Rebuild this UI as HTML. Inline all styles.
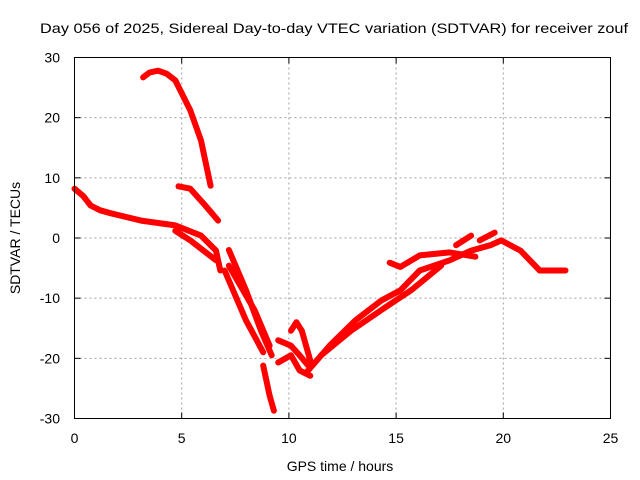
<!DOCTYPE html>
<html><head><meta charset="utf-8"><style>body{margin:0;background:#fff}svg{display:block;font-family:"Liberation Sans",sans-serif}</style></head>
<body>
<svg id="chart" width="640" height="480" viewBox="0 0 640 480">
<text x="40" y="33" font-size="14" textLength="588" lengthAdjust="spacingAndGlyphs">Day 056 of 2025, Sidereal Day-to-day VTEC variation (SDTVAR) for receiver zouf</text>
<g id="grid"></g>
<g id="series"></g>
<rect x="74.5" y="57.5" width="536" height="361" fill="none" stroke="#000" stroke-width="1"/>
<g id="axes"></g>
<text x="340" y="471" font-size="14" text-anchor="middle">GPS time / hours</text>
<text transform="translate(20,238) rotate(-90)" font-size="14" text-anchor="middle">SDTVAR / TECUs</text>
</svg>
<script>
const xTicks = [0,5,10,15,20,25];
const yTicks = [-30,-20,-10,0,10,20,30];
const seriesNames = ['arc-high','arc-mid','main-upper','main-lower','drop-a','drop-b','drop-c','spike-down','loop-a','loop-b','loop-low','rise-main','rise-second','upper-band','band-18','band-19'];
const seriesHours = [
 [3.2,3.5,3.9,4.3,4.7,5.4,5.9,6.35],
 [4.85,5.4,6.1,6.7],
 [0,0.4,0.75,1.2,1.7,3.1,4.7,5.9,6.6,6.8],
 [4.7,5.4,6.6],
 [7.2,8.0,8.7,9.2],
 [7.0,8.0,8.8],
 [7.2,8.4,9.1],
 [8.8,9.1,9.3],
 [9.5,10.1,10.5,10.9],
 [10.1,10.35,10.6,11.0],
 [9.5,10.1,10.5,11.0],
 [10.8,11.9,13.1,14.3,15.2,16.1,17.5,18.5,19.4,19.9,20.8,21.7,22.9],
 [11.5,12.9,14.3,15.7,17.1],
 [14.7,15.2,16.1,17.5,18.7],
 [17.8,18.5],
 [18.9,19.6]
];
const seriesValues = [
 [26.7,27.5,27.8,27.3,26.2,21.2,16.2,8.7],
 [8.6,8.2,5.4,2.9],
 [8.2,7.0,5.4,4.6,4.1,2.9,2.1,0.4,-2.1,-5.4],
 [1.2,-0.4,-3.7],
 [-2,-8.7,-15.4,-19.5],
 [-5.4,-13.7,-19],
 [-4.6,-12,-17.9],
 [-21.2,-26.2,-28.7],
 [-17,-17.9,-19.5,-21.2],
 [-15.4,-14,-15.4,-20.4],
 [-20.7,-19.5,-22,-22.9],
 [-22.4,-17.9,-13.7,-10.4,-8.7,-5.4,-3.7,-2.1,-1.2,-0.4,-2.1,-5.4,-5.4],
 [-19.5,-15.4,-12,-8.7,-4.6],
 [-4.1,-4.8,-2.9,-2.4,-3.1],
 [-1.2,0.4],
 [-0.4,0.9]
];
const X0=74.5,X1=610.5,Y0=418.5,Y1=57.5;
const xs=h=>X0+(h-0)/25*(X1-X0);
const ys=v=>Y0-(v+30)/60*(Y0-Y1);
const NS='http://www.w3.org/2000/svg';
const grid=document.getElementById('grid'),axes=document.getElementById('axes'),ser=document.getElementById('series');
function mk(tag,attrs,parent){const e=document.createElementNS(NS,tag);for(const k in attrs)e.setAttribute(k,attrs[k]);parent.appendChild(e);return e;}
xTicks.forEach(t=>{
 const x=xs(t);
 if(t>0&&t<25){const l=mk('line',{x1:x,x2:x,y1:Y1,y2:Y0,stroke:'#a0a0a0','stroke-dasharray':'2,3'},grid);
 
 }
 mk('line',{x1:x,x2:x,y1:Y0,y2:Y0-6,stroke:'#000'},axes);
 mk('line',{x1:x,x2:x,y1:Y1,y2:Y1+6,stroke:'#000'},axes);
 const tx=mk('text',{x:x,y:443,'font-size':14,'text-anchor':'middle'},axes);tx.textContent=t;
 
 
});
yTicks.forEach(t=>{
 const y=ys(t);
 if(t>-30&&t<30){const l=mk('line',{x1:X0,x2:X1,y1:y,y2:y,stroke:'#a0a0a0','stroke-dasharray':'2,3'},grid);
 
 }
 mk('line',{x1:X0,x2:X0+6,y1:y,y2:y,stroke:'#000'},axes);
 mk('line',{x1:X1,x2:X1-6,y1:y,y2:y,stroke:'#000'},axes);
 const tx=mk('text',{x:60,y:y+5,'font-size':14,'text-anchor':'end'},axes);tx.textContent=t;
 
 
});
seriesHours.forEach((hs,i)=>{
 const d=hs.map((h,j)=>(j?'L':'M')+xs(h).toFixed(1)+' '+ys(seriesValues[i][j]).toFixed(1)).join(' ');
 const p=mk('path',{d:d,fill:'none',stroke:'#ff0000','stroke-width':6,'stroke-linejoin':'round','stroke-linecap':'round'},ser);
 p.style.strokeDasharray='none';
 
 
});
</script>
</body></html>
